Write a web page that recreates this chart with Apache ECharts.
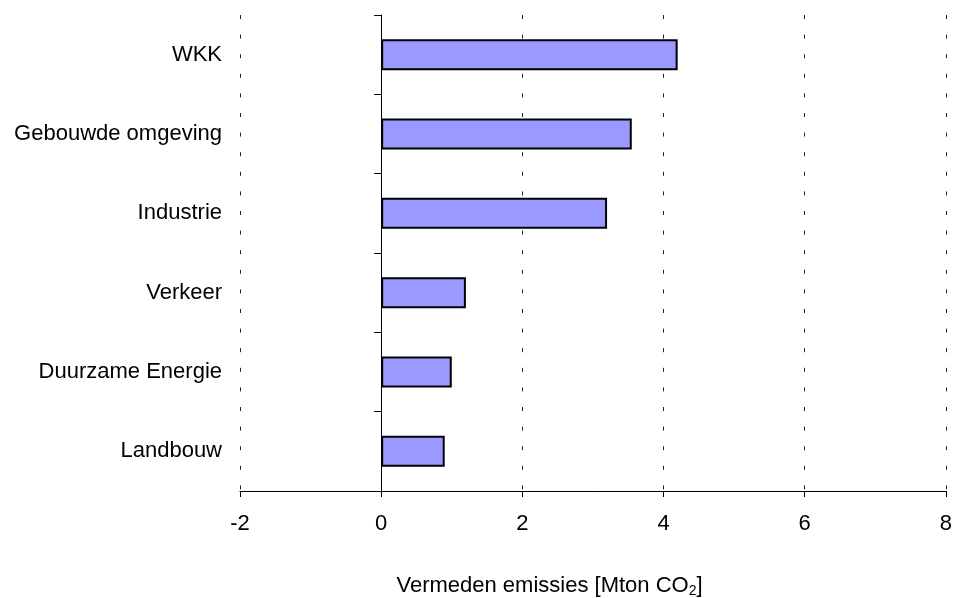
<!DOCTYPE html>
<html>
<head>
<meta charset="utf-8">
<script src="https://cdn.jsdelivr.net/npm/echarts@6/dist/echarts.min.js"></script>
<style>
  html, body { margin: 0; padding: 0; background: #fff; }
  #chart { width: 955px; height: 598px; }
</style>
</head>
<body>
<div id="chart"></div>
<script>
// Sectors, listed top to bottom
const sectors = ['WKK', 'Gebouwde omgeving', 'Industrie', 'Verkeer', 'Duurzame Energie', 'Landbouw'];
// Avoided emissions per sector, Mton CO2
const avoided = [4.2, 3.55, 3.2, 1.2, 1.0, 0.9];
// Value axis range
const xMin = -2, xMax = 8, xStep = 2;

const FONT = '"Liberation Sans", Arial, sans-serif';

const chart = echarts.init(document.getElementById('chart'), null, { renderer: 'canvas' });
chart.setOption({
  animation: false,
  backgroundColor: '#fff',
  textStyle: { fontFamily: FONT },
  grid: { left: 240, right: 8, top: 15, bottom: 107, containLabel: false },
  xAxis: {
    type: 'value',
    min: xMin, max: xMax, interval: xStep,
    axisLine: { show: true, onZero: false, lineStyle: { color: '#000', width: 1 } },
    axisTick: { show: true, length: 6, lineStyle: { color: '#000', width: 1 } },
    axisLabel: { color: '#000', fontSize: 22, fontFamily: FONT, margin: 22 },
    splitLine: { show: true, lineStyle: { color: '#222', width: 1, type: [4, 15.6] } }
  },
  yAxis: [
    {
      // category labels at the left edge of the plot
      type: 'category', data: sectors, inverse: true, position: 'left',
      axisLine: { show: false, onZero: false },
      axisTick: { show: false },
      axisLabel: { color: '#000', fontSize: 22, fontFamily: FONT, margin: 18 },
      splitLine: { show: false }
    },
    {
      // axis line drawn through x = 0 with boundary ticks
      type: 'category', data: sectors, inverse: true, position: 'right',
      axisLine: { show: true, onZero: true, lineStyle: { color: '#000', width: 1 } },
      axisTick: { show: true, inside: true, length: 7, lineStyle: { color: '#000', width: 1 } },
      axisLabel: { show: false },
      splitLine: { show: false }
    }
  ],
  series: [{
    type: 'bar',
    yAxisIndex: 1,
    data: avoided,
    barWidth: 31,
    itemStyle: { color: '#9999FF', borderColor: '#000', borderWidth: 2 }
  }],
  graphic: [{
    type: 'text',
    x: 549.5, y: 586,
    style: {
      text: '{t|Vermeden emissies [Mton CO}{s|2}{t|]}',
      textAlign: 'center',
      textVerticalAlign: 'middle',
      rich: {
        t: { fontSize: 22, fontFamily: FONT, fill: '#000', color: '#000' },
        s: { fontSize: 14, fontFamily: FONT, fill: '#000', color: '#000', verticalAlign: 'bottom', padding: [10, 0, 0, 0] }
      }
    }
  }]
});
</script>
</body>
</html>
